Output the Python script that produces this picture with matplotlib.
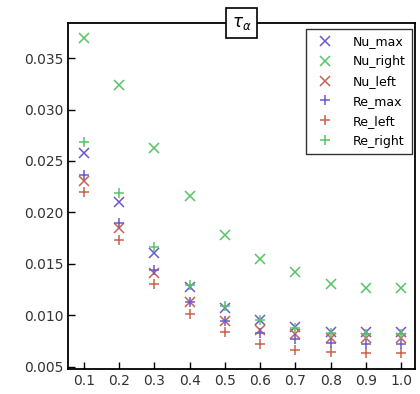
import matplotlib
matplotlib.use("Agg")
import matplotlib.pyplot as plt

x = [0.1, 0.2, 0.3, 0.4, 0.5, 0.6, 0.7, 0.8, 0.9, 1.0]
nu_max = [0.0258, 0.0210, 0.0161, 0.01274, 0.01075, 0.00955, 0.00887, 0.00842, 0.00842, 0.00840]
nu_right = [0.0369, 0.0324, 0.02625, 0.02156, 0.01778, 0.01549, 0.01420, 0.01307, 0.01268, 0.01268]
nu_left = [0.0231, 0.0185, 0.01414, 0.01129, 0.00945, 0.00858, 0.00816, 0.00784, 0.00780, 0.00780]
re_max = [0.02366, 0.01898, 0.01446, 0.01129, 0.00945, 0.00833, 0.00767, 0.00735, 0.00719, 0.00726]
re_left = [0.02195, 0.01736, 0.01307, 0.01010, 0.00838, 0.00726, 0.00664, 0.00645, 0.00638, 0.00632]
re_right = [0.02689, 0.02189, 0.01666, 0.0130, 0.01090, 0.00952, 0.00874, 0.00833, 0.00823, 0.00823]
xticks = [0.1, 0.2, 0.3, 0.4, 0.5, 0.6, 0.7, 0.8, 0.9, 1.0]
yticks = [0.005, 0.010, 0.015, 0.020, 0.025, 0.030, 0.035]

purple = '#6a5acd'
green = '#57c464'
red = '#c8634a'

plt.rcParams['font.family'] = ['DejaVu Sans']
fig = plt.figure(figsize=(4.2, 3.94), dpi=100)
ax = fig.add_axes([68/420, 25/394, 347/420, 346/394])

ms = 7
mew = 1.1
ax.plot(x, nu_max, 'x', color=purple, ms=ms, mew=mew, label='Nu_max', ls='none')
ax.plot(x, nu_right, 'x', color=green, ms=ms, mew=mew, label='Nu_right', ls='none')
ax.plot(x, nu_left, 'x', color=red, ms=ms, mew=mew, label='Nu_left', ls='none')
ax.plot(x, re_max, '+', color=purple, ms=ms, mew=mew, label='Re_max', ls='none')
ax.plot(x, re_left, '+', color=red, ms=ms, mew=mew, label='Re_left', ls='none')
ax.plot(x, re_right, '+', color=green, ms=ms, mew=mew, label='Re_right', ls='none')

ax.set_xlim(0.0545, 1.0395)
ax.set_ylim(0.0048, 0.0384)
ax.set_xticks(xticks)
ax.set_xticklabels([f'{t:.1f}' for t in xticks])
ax.set_yticks(yticks)
ax.set_yticklabels([f'{t:.3f}' for t in yticks])
ax.tick_params(direction='in', length=5, width=1, labelsize=10, labelcolor='#333333')
for s in ax.spines.values():
    s.set_linewidth(1.3)
    s.set_color('black')

leg = ax.legend(loc='upper right', fancybox=False, edgecolor='#333333', fontsize=9,
                framealpha=1, borderpad=0.5, handletextpad=1.2, labelspacing=0.55,
                bbox_to_anchor=(0.99, 0.983), borderaxespad=0)
leg.get_frame().set_linewidth(1.0)

ax.text(0.5, 1.0, r'$\tau_\alpha$', transform=ax.transAxes, ha='center', va='center',
        fontsize=12, bbox=dict(boxstyle='square,pad=0.35', fc='white', ec='black', lw=1.2),
        zorder=10)

fig.savefig('out.png', dpi=100)
